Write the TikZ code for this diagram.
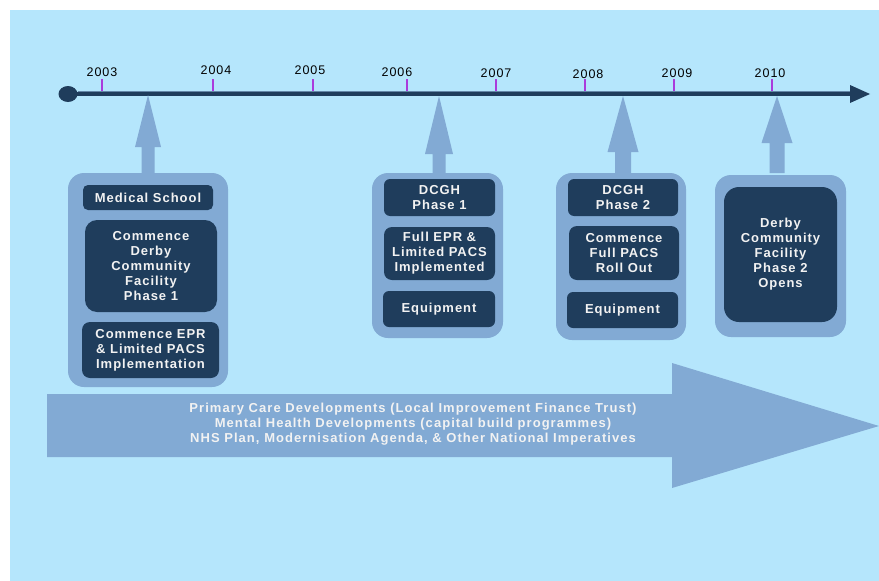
\documentclass[tikz,border=0pt]{standalone}
\usepackage{fontspec}
\usetikzlibrary{shapes.geometric}
\setmainfont{Liberation Sans}
\newfontfamily\boxfont{Liberation Sans}[LetterSpace=7.5]
\newfontfamily\yearfont{Liberation Sans}[LetterSpace=8]
\newfontfamily\driverfont{Liberation Sans}[LetterSpace=8]
\definecolor{bgblue}{RGB}{181,230,252}
\definecolor{midblue}{RGB}{130,170,212}
\definecolor{darkblue}{RGB}{31,61,92}
\definecolor{lineblue}{RGB}{100,135,168}
\definecolor{tickpurple}{RGB}{170,60,220}
\definecolor{offwhite}{RGB}{242,242,242}
\begin{document}
\begin{tikzpicture}[x=1pt,y=-1pt,
  outerbox/.style={fill=midblue,rounded corners=16pt,minimum width=#1},
  innerbox/.style={fill=darkblue,text=offwhite,font=\boxfont\fontsize{13}{15}\selectfont\bfseries,align=center,inner sep=0pt,rounded corners=6pt},
  yearlabel/.style={font=\yearfont\fontsize{12.5}{14}\selectfont,text=black,inner sep=0pt},
  yeartick/.style={draw=tickpurple,line width=1.3pt},
  uparrow/.style={fill=midblue}]
\useasboundingbox (0,0) rectangle (879,581);
\fill[white] (0,0) rectangle (879,581);
\fill[bgblue] (10,10) rectangle (879,581);

% timeline
\node[fill=darkblue,ellipse,minimum width=19pt,minimum height=16pt,inner sep=0pt] (start) at (68,94) {};
\coordinate (tlend) at (850,94);
\draw[darkblue,line width=4pt] (start.center) -- (tlend);
\draw[lineblue,line width=1.5pt] (start.east |- 0,91.5) -- (tlend |- 0,91.5);
\fill[darkblue] (850,85) -- (870,94) -- (850,103) -- cycle;

% ticks and years
\foreach \x/\lx/\ly/\yr in {102/102/72/2003,213/216/70/2004,313/310/70/2005,407/397/72/2006,496/496/73/2007,585/588/74/2008,674/677/73/2009,772/770/73/2010}{
  \draw[yeartick] (\x,79) -- (\x,91);
  \node[yearlabel] (y\yr) at (\lx,\ly) {\yr};
}

% outer boxes
\node[outerbox=160pt,minimum height=214pt] (ob1) at (148,280) {};
\node[outerbox=131pt,minimum height=165pt] (ob2) at (437.5,255.5) {};
\node[outerbox=130pt,minimum height=167pt] (ob3) at (621,256.5) {};
\node[outerbox=131pt,minimum height=162pt] (ob4) at (780.5,256) {};

% up arrows (box -> timeline)
\foreach \b/\tx/\ty/\by/\hw/\sw in {ob1/148/95/147/13/6.5, ob2/439/96/154/14/6.5, ob3/623/96/152/15.5/8, ob4/777/96/143/15.5/7.5}{
  \fill[uparrow] (\tx,\ty) -- (\tx+\hw,\by) -- (\tx+\sw,\by) -- (\tx+\sw,{\by+30}) -- (\tx-\sw,{\by+30}) -- (\tx-\sw,\by) -- (\tx-\hw,\by) -- cycle;
}

% box 1
\node[innerbox,minimum width=130pt,minimum height=25pt,rounded corners=5pt] (med) at (148,197.5) {Medical School};
\node[innerbox,minimum width=132pt,minimum height=92pt,rounded corners=12pt] (cdc1) at (151,266) {Commence\\Derby\\Community\\Facility\\Phase 1};
\node[innerbox,minimum width=137pt,minimum height=56pt,rounded corners=8pt] (epr) at (150.5,350) {Commence EPR\\\& Limited PACS\\Implementation};

% box 2
\node[innerbox,minimum width=111pt,minimum height=37pt] (dcgh1) at (439.5,197.5) {DCGH\\Phase 1};
\node[innerbox,minimum width=111pt,minimum height=53pt,rounded corners=8pt] (fullepr) at (439.5,253.5) {Full EPR \&\\Limited PACS\\Implemented};
\node[innerbox,minimum width=112pt,minimum height=36pt] (equip1) at (439,309) {Equipment};

% box 3
\node[innerbox,minimum width=110pt,minimum height=37pt] (dcgh2) at (623,197.5) {DCGH\\Phase 2};
\node[innerbox,minimum width=110pt,minimum height=54pt,rounded corners=8pt] (fullpacs) at (624,253) {Commence\\Full PACS\\Roll Out};
\node[innerbox,minimum width=111pt,minimum height=36pt] (equip2) at (622.5,310) {Equipment};

% box 4
\node[innerbox,minimum width=113pt,minimum height=135pt,rounded corners=15pt] (dcf2) at (780.5,254.5) {Derby\\Community\\Facility\\Phase 2\\Opens};

% big arrow
\fill[midblue] (47,394) -- (672,394) -- (672,363) -- (879,426) -- (672,488) -- (672,457) -- (47,457) -- cycle;
\node[text=offwhite,font=\driverfont\fontsize{13}{15}\selectfont\bfseries,align=center,inner sep=0pt] (drivers) at (413,424) {Primary Care Developments (Local Improvement Finance Trust)\\Mental Health Developments (capital build programmes)\\NHS Plan, Modernisation Agenda, \& Other National Imperatives};
\end{tikzpicture}
\end{document}
